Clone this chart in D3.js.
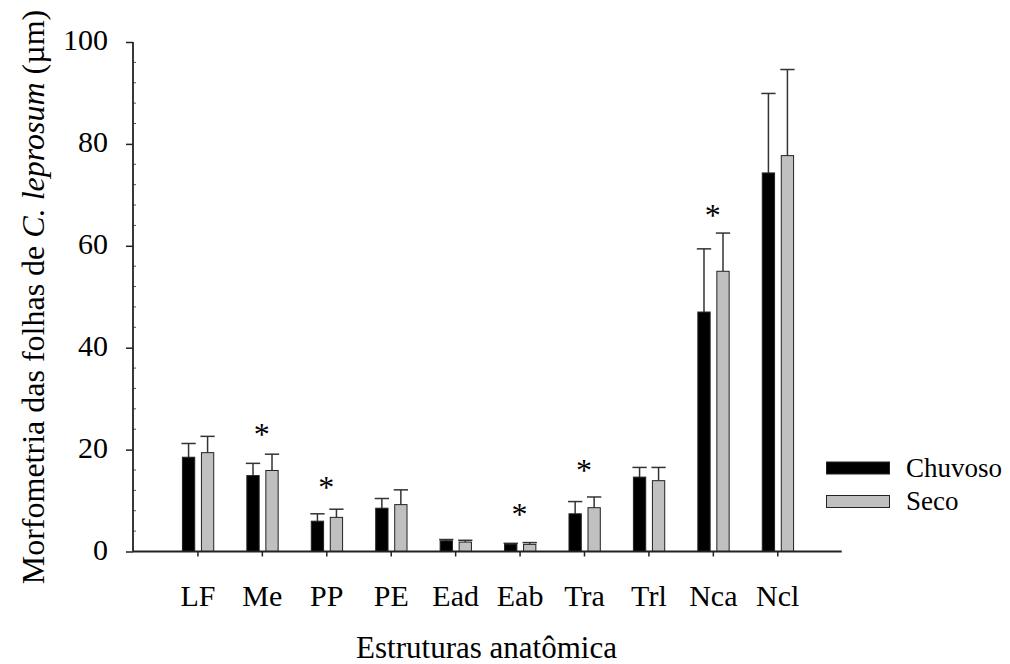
<!DOCTYPE html>
<html>
<head>
<meta charset="utf-8">
<script src="https://cdn.jsdelivr.net/npm/d3@7"></script>
<style>
body { margin: 0; background: #fff; }
text { font-family: "Liberation Serif", "Times New Roman", Times, serif; fill: #000; }
</style>
</head>
<body>
<svg width="1010" height="664"></svg>
<script>
// estruturas anatomicas
var categories = ["LF", "Me", "PP", "PE", "Ead", "Eab", "Tra", "Trl", "Nca", "Ncl"];
// medias por periodo
var chuvoso = [18.5, 14.9, 5.95, 8.5, 2.1, 1.45, 7.4, 14.6, 47.0, 74.3];
var seco = [19.4, 15.9, 6.7, 9.2, 1.85, 1.4, 8.6, 13.9, 55.0, 77.7];
// desvio (so a parte de cima aparece)
var chuvosoErr = [2.7, 2.4, 1.45, 1.9, 0.25, 0.15, 2.4, 1.9, 12.4, 15.6];
var secoErr = [3.2, 3.2, 1.6, 2.9, 0.35, 0.35, 2.1, 2.6, 7.5, 16.9];
// asterisco de diferenca significativa (altura no eixo y)
var sigY = [null, 23.6, 13.3, null, null, 7.9, 16.6, null, 66.7, null];
var yTicks = [0, 20, 40, 60, 80, 100];
var seriesNames = ["Chuvoso", "Seco"];
var seriesColors = ["#000000", "#c0c0c0"];

var svg = d3.select("svg");

var x = d3.scaleLinear().domain([0, categories.length + 1]).range([133, 841.7]);
var y = d3.scaleLinear().domain([0, 100]).range([551.5, 42]);

var barW = 12.3;
var offsets = [-15, 4];

var series = [
	{name: seriesNames[0], values: chuvoso, err: chuvosoErr, color: seriesColors[0]},
	{name: seriesNames[1], values: seco, err: secoErr, color: seriesColors[1]}
];

series.forEach(function(s, si){
	var rows = categories.map(function(c, i){
		return {cat: c, i: i, v: s.values[i], e: s.err[i]};
	});
	var g = svg.append("g").attr("class", "serie" + si);

	// error bars first, behind the bars
	g.selectAll(".errLine").data(rows).enter().append("line")
		.attr("x1", function(d){ return x(d.i + 1) + offsets[si] + barW / 2; })
		.attr("x2", function(d){ return x(d.i + 1) + offsets[si] + barW / 2; })
		.attr("y1", function(d){ return y(d.v); })
		.attr("y2", function(d){ return y(d.v + d.e); })
		.attr("stroke", "#333")
		.attr("stroke-width", 1.5);
	g.selectAll(".errCap").data(rows).enter().append("line")
		.attr("x1", function(d){ return x(d.i + 1) + offsets[si] - 1; })
		.attr("x2", function(d){ return x(d.i + 1) + offsets[si] + barW + 1; })
		.attr("y1", function(d){ return y(d.v + d.e); })
		.attr("y2", function(d){ return y(d.v + d.e); })
		.attr("stroke", "#333")
		.attr("stroke-width", 1.5);

	g.selectAll("rect").data(rows).enter().append("rect")
		.attr("x", function(d){ return x(d.i + 1) + offsets[si]; })
		.attr("y", function(d){ return y(d.v); })
		.attr("width", barW)
		.attr("height", function(d){ return y(0) - y(d.v); })
		.attr("fill", s.color)
		.attr("stroke", "#222")
		.attr("stroke-width", 1);
});

// asteriscos
var sigRows = [];
for (var i = 0; i < sigY.length; i++){
	if (sigY[i] != null) sigRows.push({i: i, v: sigY[i]});
}
svg.selectAll(".sig").data(sigRows).enter().append("text")
	.attr("class", "sig")
	.attr("x", function(d){ return x(d.i + 1); })
	.attr("y", function(d){ return y(d.v) + 14; })
	.attr("text-anchor", "middle")
	.style("font-size", "32px")
	.text("*");

// eixo y
var yAxis = svg.append("g").attr("transform", "translate(" + x(0) + ",0)");
yAxis.call(d3.axisLeft(y).tickValues(yTicks).tickSize(7).tickPadding(18));
yAxis.attr("font-family", null);
yAxis.selectAll("text").style("font-size", "30px").attr("dy", "0.25em");
yAxis.selectAll("line").attr("stroke", "#222").attr("stroke-width", 1.5);
yAxis.select(".domain").remove();
var minor = d3.range(0, 101, 4).filter(function(v){ return v % 20 != 0; });
yAxis.selectAll(".minor").data(minor).enter().append("line")
	.attr("x1", 0).attr("x2", 3)
	.attr("y1", function(d){ return y(d); })
	.attr("y2", function(d){ return y(d); })
	.attr("stroke", "#555")
	.attr("stroke-width", 1);
yAxis.append("line")
	.attr("x1", 0).attr("x2", 0)
	.attr("y1", y(100)).attr("y2", y(0))
	.attr("stroke", "#222").attr("stroke-width", 1.8);

// eixo x
var xAxis = svg.append("g").attr("transform", "translate(0," + y(0) + ")");
xAxis.call(d3.axisBottom(x)
	.tickValues(d3.range(1, categories.length + 1))
	.tickFormat(function(d){ return categories[d - 1]; })
	.tickSize(5).tickPadding(28));
xAxis.attr("font-family", null);
xAxis.selectAll("text").style("font-size", "30px");
xAxis.selectAll("line").attr("stroke", "#222").attr("stroke-width", 1.5);
xAxis.select(".domain").remove();
xAxis.append("line")
	.attr("x1", x(0)).attr("x2", x(categories.length + 1))
	.attr("y1", 0).attr("y2", 0)
	.attr("stroke", "#222").attr("stroke-width", 1.8);

// titulos
svg.append("text")
	.attr("x", 486.5)
	.attr("y", 658)
	.attr("text-anchor", "middle")
	.style("font-size", "31px")
	.text("Estruturas anatômica");

var yTitle = svg.append("text")
	.attr("transform", "translate(44,297) rotate(-90)")
	.attr("text-anchor", "middle")
	.style("font-size", "32px");
yTitle.append("tspan").text("Morfometria das folhas de ");
yTitle.append("tspan").style("font-style", "italic").text("C. leprosum");
yTitle.append("tspan").text(" (µm)");

// legenda
var legend = svg.append("g").attr("class", "legend");
var legRows = [ {name: seriesNames[0], color: seriesColors[0], y: 462}, {name: seriesNames[1], color: seriesColors[1], y: 495.5} ];
legend.selectAll("rect").data(legRows).enter().append("rect")
	.attr("x", 826.5)
	.attr("y", function(d){ return d.y; })
	.attr("width", 63)
	.attr("height", 12)
	.attr("fill", function(d){ return d.color; })
	.attr("stroke", "#222")
	.attr("stroke-width", 1);
legend.selectAll("text").data(legRows).enter().append("text")
	.attr("x", 906)
	.attr("y", function(d){ return d.y + 14.5; })
	.style("font-size", "27px")
	.text(function(d){ return d.name; });
</script>
</body>
</html>
